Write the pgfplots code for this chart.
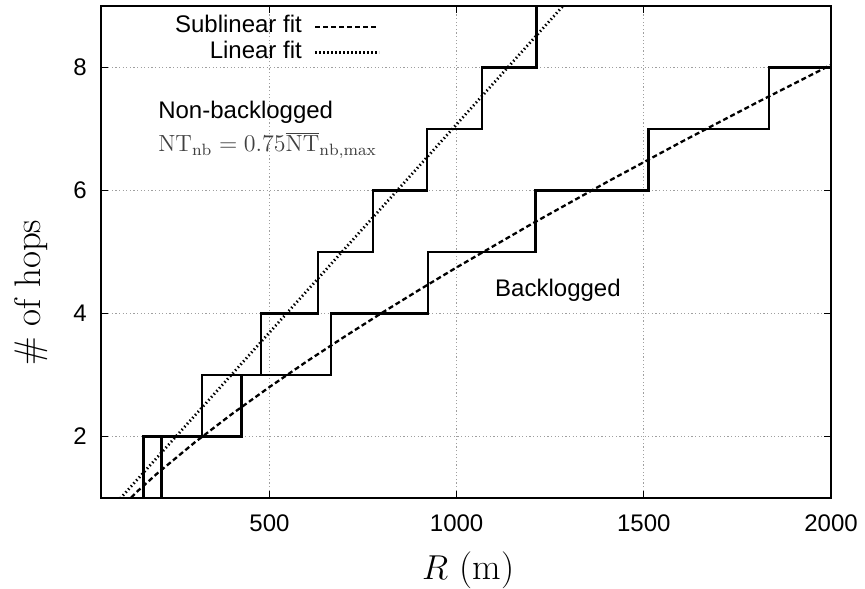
\documentclass[border=0pt]{standalone}
\usepackage{pgfplots}
\pgfplotsset{compat=1.18}
\usepackage{fontspec}
\newfontfamily\helv{Liberation Sans}

\begin{document}
\begin{tikzpicture}
\useasboundingbox (-50.5pt,-45pt) rectangle (382pt,249pt);
\begin{axis}[
  scale only axis, width=365pt, height=246pt,
  xmin=50, xmax=2000, ymin=1, ymax=9,
  xtick={500,1000,1500,2000}, ytick={2,4,6,8},
  tick align=inside, major tick length=3.5pt,
  grid=major,
  grid style={gray!75, line width=0.4pt, dash pattern=on 0.6pt off 1.2pt},
  axis line style={line width=0.8pt, black},
  every tick/.style={black, line width=0.6pt},
  ticklabel style={font=\helv\fontsize{12}{14}\selectfont, inner sep=0pt},
  /pgf/number format/assume math mode=true,
  /pgf/number format/set thousands separator={},
  xticklabel shift=8pt, yticklabel shift=7pt,
  xlabel={$R$ (m)}, ylabel={\# of hops},
  label style={font=\fontsize{18.5}{22}\selectfont},
  xlabel style={at={(axis description cs:0.503,-0.146)}, anchor=center},
  ylabel style={at={(axis description cs:-0.096,0.417)}, anchor=center},
  legend style={at={(axis description cs:0.3836,0.985)}, anchor=north east,
    draw=none, fill=none, inner sep=0pt,
    font=\helv\fontsize{12}{14}\selectfont,
    row sep=0pt, column sep=5pt,
    nodes={inner sep=1pt, text height=8.6pt, text depth=2.4pt}},
  legend cell align=right, legend plot pos=right,
  legend image code/.code={\draw[#1] (0pt,0pt) -- (32pt,0pt);},
  clip mode=individual,
]
% power-law (sublinear) fit to the backlogged case
\addplot[black, line width=1.15pt, dash pattern=on 2.5pt off 1.5pt] coordinates {
  (100,0.825) (150,1.124) (200,1.398) (300,1.902) (400,2.367) (500,2.804)
  (600,3.222) (700,3.621) (800,4.009) (900,4.384) (1000,4.750) (1200,5.455)
  (1400,6.133) (1600,6.789) (1800,7.424) (2000,8.043)};
\addlegendentry{Sublinear fit}
% linear fit to the non-backlogged case
\addplot[black, line width=1.4pt, dash pattern=on 0.7pt off 1.3pt] coordinates {
  (80,0.847) (1300,9.108)};
\addlegendentry{Linear fit}

% hop count, non-backlogged traffic
\addplot[black, line width=1.3pt, const plot, forget plot, clip=false] coordinates {
  (50,1) (164,2) (320,3) (477,4) (630,5) (777,6) (921,7) (1068,8) (1214,9) (1364,9)};
% hop count, backlogged traffic
\addplot[black, line width=1.3pt, const plot, forget plot, clip=false] coordinates {
  (50,1) (211,2) (426,3) (664,4) (923,5) (1210,6) (1512,7) (1834,8) (2000,8)};

\node[font=\helv\fontsize{12}{14}\selectfont, anchor=base west, inner sep=0pt]
  at (axis cs:202,7.163) {Non-backlogged};
\node[font=\fontsize{11.7}{14}\selectfont, anchor=base west, inner sep=0pt, text=black!75]
  at (axis cs:202,6.63) {$\mathrm{NT}_{\mathrm{nb}} = 0.75\overline{\mathrm{NT}}_{\mathrm{nb,max}}$};
\node[font=\helv\fontsize{12}{14}\selectfont, anchor=base west, inner sep=0pt]
  at (axis cs:1102,4.27) {Backlogged};
\end{axis}
\end{tikzpicture}
\end{document}
